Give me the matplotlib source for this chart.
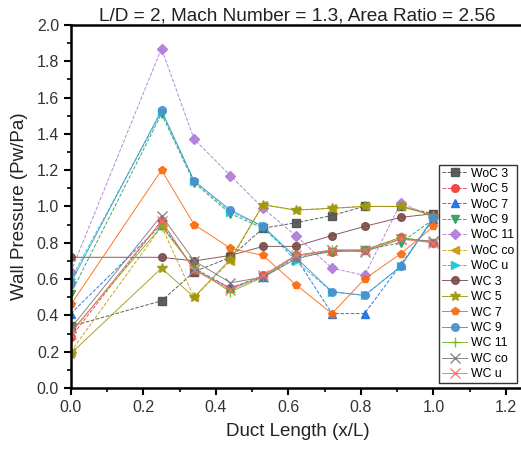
import matplotlib
matplotlib.use('Agg')
import matplotlib.pyplot as plt
from matplotlib.ticker import MultipleLocator

plt.rcParams['font.family'] = ['Liberation Sans', 'DejaVu Sans']

# duct stations (x/L)
x = [0.0, 0.25, 0.34, 0.44, 0.53, 0.62, 0.72, 0.81, 0.91, 1.0]

# wall pressure ratios
woc_3 = [0.34, 0.48, 0.64, 0.72, 0.88, 0.91, 0.95, 1.00, 1.00, 0.96]
woc_5 = [0.28, 0.92, 0.65, 0.55, 0.62, 0.73, 0.75, 0.76, 0.83, 0.80]
woc_7 = [0.41, 0.90, 0.66, 0.55, 0.61, 0.72, 0.41, 0.41, 0.68, 0.93]
woc_9 = [0.52, 1.51, 1.13, 0.96, 0.88, 0.72, 0.75, 0.76, 0.80, 0.93]
woc_11 = [0.64, 1.87, 1.37, 1.17, 0.99, 0.84, 0.66, 0.62, 1.02, 0.94]
woc_co = [0.20, 0.89, 0.50, 0.70, 1.01, 0.98, 0.99, 1.00, 1.00, 0.95]
woc_u = [0.60, 1.52, 1.14, 0.97, 0.89, 0.70, 0.53, 0.51, 0.67, 0.94]
wc_3 = [0.72, 0.72, 0.70, 0.73, 0.78, 0.78, 0.84, 0.89, 0.94, 0.96]
wc_5 = [0.19, 0.66, 0.50, 0.71, 1.01, 0.98, 0.99, 1.00, 1.00, 0.95]
wc_7 = [0.46, 1.20, 0.90, 0.77, 0.73, 0.57, 0.41, 0.60, 0.74, 0.89]
wc_9 = [0.58, 1.53, 1.14, 0.98, 0.89, 0.72, 0.53, 0.51, 0.67, 0.94]
wc_11 = [0.31, 0.89, 0.66, 0.53, 0.61, 0.73, 0.76, 0.76, 0.83, 0.80]
wc_co = [0.33, 0.95, 0.70, 0.58, 0.61, 0.71, 0.76, 0.75, 0.82, 0.81]
wc_u = [0.30, 0.92, 0.65, 0.54, 0.62, 0.73, 0.76, 0.76, 0.82, 0.80]

series = [
    ('WoC 3', woc_3, '#4d4d4d', 's', '--'),
    ('WoC 5', woc_5, '#f23b3b', 'o', '--'),
    ('WoC 7', woc_7, '#1a6fdf', '^', '--'),
    ('WoC 9', woc_9, '#2ca05a', 'v', '--'),
    ('WoC 11', woc_11, '#b07ad8', 'D', '--'),
    ('WoC co', woc_co, '#cc9a06', '<', '--'),
    ('WoC u', woc_u, '#14c8d4', '>', '--'),
    ('WC 3', wc_3, '#7a4a47', 'o', '-'),
    ('WC 5', wc_5, '#9c9a10', '*', '-'),
    ('WC 7', wc_7, '#fb6a0a', 'p', '-'),
    ('WC 9', wc_9, '#4a8fd0', 'o', '-'),
    ('WC 11', wc_11, '#6fb820', '+', '-'),
    ('WC co', wc_co, '#7a7a7a', 'x', '-'),
    ('WC u', wc_u, '#f07070', 'x', '-'),
]

fig = plt.figure(figsize=(5.21, 4.53), dpi=100)
ax = fig.add_axes([0.136, 0.1435, 0.87, 0.8015])

for name, vals, col, mk, ls in series:
    ms = 7 if mk in ('*', '+', 'x') else 5.5
    ax.plot(x, vals, color=col, marker=mk, linestyle=ls, linewidth=0.7,
            markersize=ms, alpha=0.9, label=name)

ax.set_xlim(0, 1.25)
ax.set_ylim(0, 2.0)
ax.xaxis.set_major_locator(MultipleLocator(0.2))
ax.xaxis.set_minor_locator(MultipleLocator(0.1))
ax.yaxis.set_major_locator(MultipleLocator(0.2))
ax.yaxis.set_minor_locator(MultipleLocator(0.1))
ax.xaxis.set_major_formatter(plt.FormatStrFormatter('%.1f'))
ax.yaxis.set_major_formatter(plt.FormatStrFormatter('%.1f'))
ax.tick_params(which='major', direction='out', length=5, width=1.5,
               labelsize=11.5, labelcolor='#333333')
ax.tick_params(which='minor', direction='out', length=3, width=1.2)
for sp in ax.spines.values():
    sp.set_linewidth(1.8)

ax.set_xlabel('Duct Length (x/L)', fontsize=13.5, color='#222222', labelpad=6)
ax.set_ylabel('Wall Pressure (Pw/Pa)', fontsize=13.5, color='#222222', labelpad=6)
ax.set_title('L/D = 2, Mach Number = 1.3, Area Ratio = 2.56', fontsize=13.7,
             pad=1, color='#222222')

leg = ax.legend(loc='upper left', bbox_to_anchor=(0.813, 0.615), fontsize=8.8,
                frameon=True, fancybox=False, edgecolor='black',
                handlelength=2.0, labelspacing=0.28, borderpad=0.25,
                handletextpad=0.3, borderaxespad=0)
leg.get_frame().set_linewidth(1.0)

fig.savefig('out.png', dpi=100)
plt.close('all')
